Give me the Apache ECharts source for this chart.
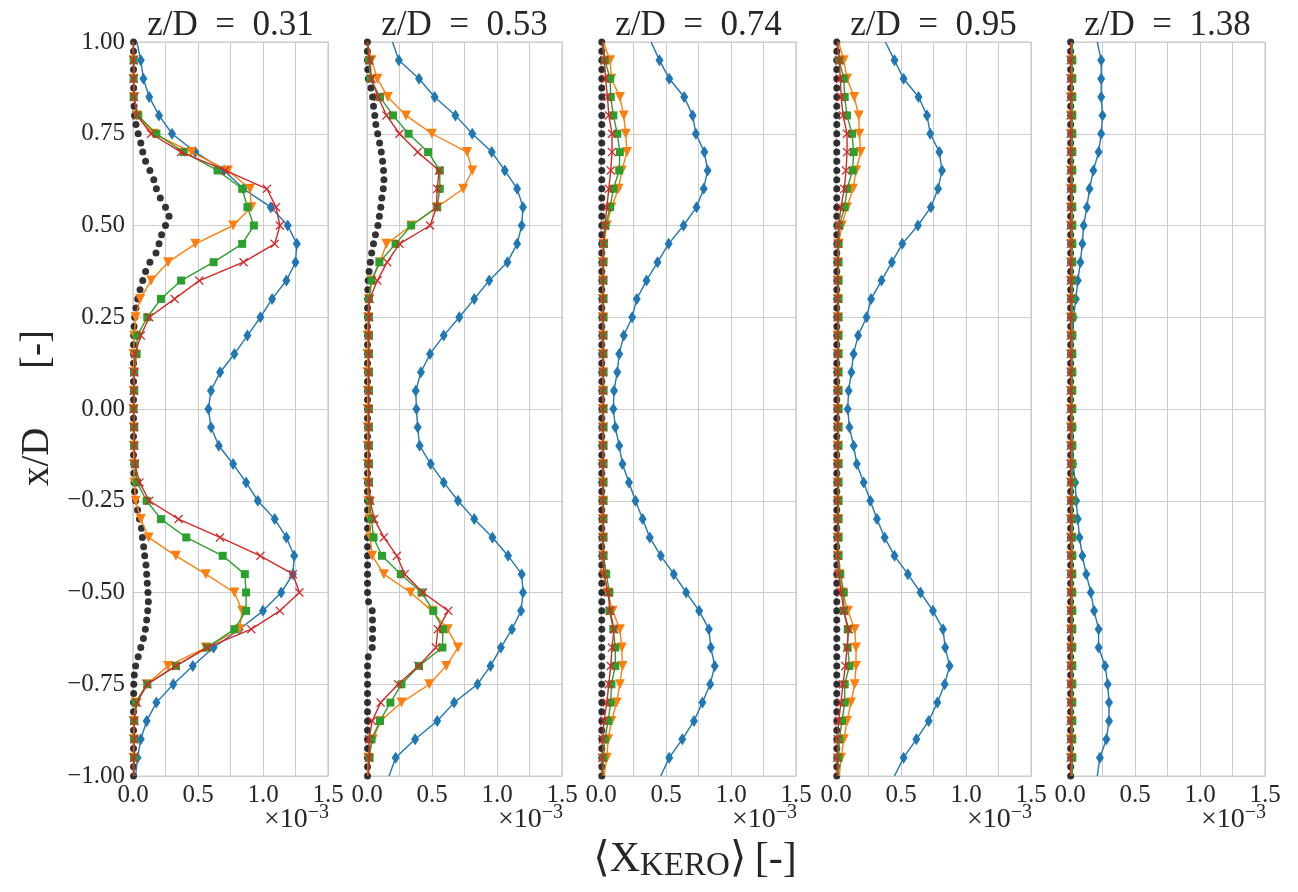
<!DOCTYPE html>
<html><head><meta charset="utf-8">
<script src="https://cdn.jsdelivr.net/npm/echarts@6/dist/echarts.min.js"></script>
<style>html,body{margin:0;padding:0;background:#fff}#c{width:1298px;height:892px}</style>
</head><body><div id="c"></div>
<script>
// ---------- DATA ----------
const panelTitles = ['z/D\u2002=\u20020.31', 'z/D\u2002=\u20020.53', 'z/D\u2002=\u20020.74', 'z/D\u2002=\u20020.95', 'z/D\u2002=\u20021.38'];
const xTickLabels = [0.0, 0.5, 1.0, 1.5];
// measurement positions x/D for the marker series
const yPos = [1.00,0.95,0.90,0.85,0.80,0.75,0.70,0.65,0.60,0.55,0.50,0.45,0.40,0.35,0.30,0.25,0.20,0.15,0.10,0.05,0.00,
  -0.05,-0.10,-0.15,-0.20,-0.25,-0.30,-0.35,-0.40,-0.45,-0.50,-0.55,-0.60,-0.65,-0.70,-0.75,-0.80,-0.85,-0.90,-0.95,-1.00];
// fine positions for the black dotted profile
const yFine = [1.000,0.975,0.950,0.925,0.900,0.875,0.850,0.825,0.800,0.775,0.750,0.725,0.700,0.675,0.650,0.625,0.600,0.575,0.550,0.525,
  0.500,0.475,0.450,0.425,0.400,0.375,0.350,0.325,0.300,0.275,0.250,0.225,0.200,0.175,0.150,0.125,0.100,0.075,0.050,0.025,0.000,
  -0.025,-0.050,-0.075,-0.100,-0.125,-0.150,-0.175,-0.200,-0.225,-0.250,-0.275,-0.300,-0.325,-0.350,-0.375,-0.400,-0.425,-0.450,-0.475,
  -0.500,-0.525,-0.550,-0.575,-0.600,-0.625,-0.650,-0.675,-0.700,-0.725,-0.750,-0.775,-0.800,-0.825,-0.850,-0.875,-0.900,-0.925,-0.950,-0.975,-1.000];

// panel 1 (z/D = 0.31)
const blue1 = [0.03,0.06,0.08,0.125,0.2,0.3,0.48,0.7,0.85,1.06,1.19,1.26,1.25,1.18,1.07,0.98,0.88,0.78,0.67,0.6,0.58,
  0.6,0.66,0.77,0.87,0.96,1.09,1.18,1.24,1.23,1.14,1.0,0.82,0.62,0.46,0.31,0.18,0.105,0.06,0.035,0.02];
const orange1 = [0.0,0.005,0.005,0.01,0.03,0.16,0.45,0.73,0.9,0.91,0.77,0.48,0.27,0.14,0.055,0.02,0.01,0.005,0.005,0.005,0.005,
  0.005,0.005,0.005,0.01,0.02,0.06,0.12,0.33,0.56,0.78,0.84,0.82,0.56,0.27,0.105,0.02,0.005,0.005,0.003,0.003];
const green1 = [0.003,0.005,0.005,0.005,0.04,0.18,0.39,0.65,0.84,0.88,0.93,0.84,0.62,0.37,0.215,0.11,0.033,0.028,0.01,0.01,0.005,
  0.01,0.01,0.015,0.03,0.105,0.215,0.41,0.69,0.86,0.87,0.87,0.78,0.57,0.33,0.11,0.02,0.01,0.01,0.01,0.005];
const red1 = [0.003,0.005,0.005,0.008,0.03,0.14,0.37,0.71,1.03,1.1,1.13,1.09,0.85,0.51,0.32,0.125,0.06,0.015,0.01,0.005,0.005,
  0.008,0.01,0.015,0.05,0.125,0.35,0.67,0.98,1.23,1.28,1.13,0.91,0.57,0.33,0.11,0.03,0.01,0.01,0.008,0.005];
const black1 = [0.004,0.004,0.004,0.004,0.004,0.005,0.006,0.008,0.012,0.023,0.04,0.06,0.075,0.097,0.13,0.16,0.18,0.21,0.25,0.277,
  0.25,0.22,0.2,0.177,0.13,0.097,0.075,0.054,0.036,0.023,0.013,0.008,0.005,0.004,0.004,0.004,0.004,0.004,0.004,0.004,0.004,
  0.004,0.004,0.004,0.004,0.004,0.005,0.006,0.008,0.012,0.02,0.035,0.05,0.065,0.072,0.082,0.09,0.1,0.105,0.11,
  0.115,0.118,0.113,0.105,0.095,0.08,0.06,0.04,0.02,0.01,0.006,0.005,0.004,0.004,0.004,0.004,0.004,0.004,0.004,0.004,0.004];

// panel 2 (z/D = 0.53)
const blue2 = [0.196,0.245,0.4,0.52,0.68,0.81,0.96,1.06,1.155,1.2,1.19,1.155,1.08,0.94,0.825,0.71,0.59,0.485,0.415,0.375,0.38,
  0.39,0.405,0.49,0.59,0.7,0.825,0.965,1.085,1.19,1.2,1.185,1.115,1.03,0.95,0.85,0.67,0.54,0.37,0.22,0.17];
const orange2 = [0.0,0.035,0.08,0.16,0.3,0.5,0.77,0.81,0.74,0.54,0.34,0.15,0.1,0.035,0.015,0.008,0.005,0.005,0.005,0.005,0.005,
  0.005,0.005,0.005,0.005,0.01,0.02,0.025,0.04,0.13,0.335,0.5,0.62,0.7,0.61,0.48,0.265,0.105,0.045,0.01,0.005];
const green2 = [0.005,0.015,0.025,0.1,0.2,0.32,0.47,0.56,0.56,0.54,0.34,0.22,0.095,0.035,0.015,0.015,0.015,0.015,0.015,0.015,0.015,
  0.015,0.015,0.015,0.015,0.02,0.035,0.05,0.115,0.26,0.42,0.51,0.585,0.58,0.4,0.265,0.18,0.1,0.035,0.02,0.01];
const red2 = [0.005,0.02,0.035,0.085,0.15,0.25,0.39,0.555,0.54,0.535,0.485,0.25,0.155,0.08,0.02,0.015,0.012,0.012,0.012,0.012,0.012,
  0.012,0.012,0.012,0.015,0.025,0.055,0.13,0.23,0.29,0.43,0.625,0.545,0.53,0.395,0.24,0.105,0.04,0.015,0.015,0.01];
const black2 = [0.003,0.003,0.004,0.006,0.01,0.03,0.043,0.05,0.06,0.068,0.082,0.097,0.11,0.12,0.127,0.13,0.125,0.114,0.106,0.095,
  0.084,0.065,0.05,0.036,0.026,0.016,0.009,0.006,0.005,0.004,0.004,0.004,0.004,0.004,0.004,0.004,0.004,0.004,0.004,0.004,0.004,
  0.004,0.004,0.004,0.004,0.004,0.004,0.004,0.004,0.004,0.004,0.004,0.004,0.004,0.004,0.004,0.004,0.004,0.004,0.004,
  0.004,0.012,0.04,0.042,0.043,0.042,0.04,0.01,0.004,0.004,0.004,0.004,0.004,0.004,0.004,0.004,0.004,0.004,0.004,0.004,0.004];

// panel 3 (z/D = 0.74)
const blue3 = [0.385,0.45,0.525,0.64,0.705,0.73,0.795,0.82,0.79,0.735,0.635,0.52,0.435,0.35,0.275,0.24,0.175,0.14,0.125,0.1,0.095,
  0.11,0.14,0.165,0.215,0.265,0.32,0.375,0.46,0.56,0.655,0.755,0.83,0.845,0.875,0.84,0.78,0.715,0.625,0.525,0.46];
const orange3 = [0.018,0.07,0.08,0.145,0.175,0.19,0.2,0.16,0.135,0.08,0.045,0.02,0.015,0.015,0.015,0.015,0.015,0.015,0.015,0.015,0.015,
  0.015,0.015,0.015,0.015,0.015,0.015,0.015,0.015,0.023,0.05,0.09,0.145,0.16,0.165,0.145,0.12,0.08,0.055,0.045,0.023];
const green3 = [0.015,0.03,0.07,0.075,0.095,0.125,0.145,0.14,0.095,0.07,0.035,0.023,0.02,0.02,0.02,0.02,0.02,0.02,0.02,0.02,0.02,
  0.02,0.02,0.02,0.02,0.02,0.02,0.02,0.02,0.04,0.065,0.065,0.095,0.11,0.11,0.08,0.075,0.055,0.03,0.018,0.015];
const red3 = [0.01,0.025,0.035,0.05,0.06,0.085,0.085,0.075,0.06,0.045,0.03,0.018,0.015,0.015,0.015,0.015,0.015,0.015,0.015,0.015,0.015,
  0.015,0.015,0.015,0.015,0.015,0.015,0.015,0.015,0.023,0.055,0.07,0.1,0.085,0.075,0.06,0.045,0.023,0.013,0.01,0.008];
const black3 = [0.006,0.006,0.006,0.006,0.006,0.006,0.006,0.006,0.006,0.006,0.006,0.006,0.006,0.006,0.006,0.006,0.006,0.006,0.006,0.006,
  0.006,0.006,0.006,0.006,0.006,0.006,0.006,0.006,0.006,0.006,0.006,0.006,0.006,0.006,0.006,0.006,0.006,0.006,0.006,0.006,0.006,
  0.006,0.006,0.006,0.006,0.006,0.006,0.006,0.006,0.006,0.006,0.006,0.006,0.006,0.006,0.006,0.006,0.006,0.006,0.006,
  0.006,0.006,0.006,0.006,0.006,0.006,0.006,0.006,0.006,0.006,0.006,0.006,0.006,0.006,0.006,0.006,0.006,0.006,0.006,0.006,0.006];

// panel 4 (z/D = 0.95)
const blue4 = [0.38,0.45,0.52,0.635,0.7,0.725,0.795,0.815,0.785,0.73,0.63,0.51,0.43,0.35,0.27,0.235,0.17,0.135,0.118,0.097,0.09,
  0.103,0.136,0.16,0.213,0.264,0.315,0.374,0.45,0.553,0.65,0.746,0.823,0.84,0.874,0.836,0.78,0.713,0.618,0.52,0.45];
const orange4 = [0.02,0.06,0.085,0.14,0.175,0.18,0.19,0.155,0.13,0.085,0.045,0.02,0.015,0.015,0.015,0.015,0.015,0.015,0.015,0.015,0.015,
  0.015,0.015,0.015,0.015,0.015,0.015,0.015,0.015,0.023,0.05,0.092,0.144,0.154,0.154,0.144,0.115,0.085,0.06,0.04,0.025];
const green4 = [0.012,0.025,0.06,0.067,0.085,0.123,0.136,0.128,0.085,0.067,0.026,0.02,0.02,0.02,0.02,0.02,0.02,0.02,0.02,0.02,0.02,
  0.02,0.02,0.02,0.02,0.02,0.02,0.02,0.02,0.033,0.06,0.06,0.09,0.09,0.103,0.067,0.067,0.046,0.026,0.02,0.015];
const red4 = [0.01,0.025,0.033,0.04,0.054,0.085,0.085,0.077,0.064,0.038,0.02,0.015,0.013,0.013,0.013,0.013,0.013,0.013,0.013,0.013,0.013,
  0.013,0.013,0.013,0.013,0.013,0.013,0.013,0.013,0.02,0.04,0.06,0.097,0.085,0.072,0.054,0.038,0.02,0.013,0.01,0.008];
const black4 = [0.006,0.006,0.006,0.006,0.006,0.006,0.006,0.006,0.006,0.006,0.006,0.006,0.006,0.006,0.006,0.006,0.006,0.006,0.006,0.006,
  0.006,0.006,0.006,0.006,0.006,0.006,0.006,0.006,0.006,0.006,0.006,0.006,0.006,0.006,0.006,0.006,0.006,0.006,0.006,0.006,0.006,
  0.006,0.006,0.006,0.006,0.006,0.006,0.006,0.006,0.006,0.006,0.006,0.006,0.006,0.006,0.006,0.006,0.006,0.006,0.006,
  0.006,0.006,0.006,0.006,0.006,0.006,0.006,0.006,0.006,0.006,0.006,0.006,0.006,0.006,0.006,0.006,0.006,0.006,0.006,0.006,0.006];

// panel 5 (z/D = 1.38)
const blue5 = [0.21,0.24,0.24,0.24,0.25,0.24,0.22,0.18,0.15,0.13,0.105,0.095,0.08,0.06,0.045,0.028,0.02,0.018,0.013,0.013,0.013,
  0.02,0.02,0.025,0.04,0.047,0.06,0.073,0.095,0.125,0.16,0.185,0.22,0.22,0.27,0.29,0.3,0.3,0.28,0.23,0.21];
const orange5 = [0.01,0.01,0.01,0.01,0.01,0.01,0.01,0.01,0.01,0.01,0.01,0.01,0.01,0.01,0.01,0.01,0.01,0.01,0.01,0.01,0.01,
  0.01,0.01,0.01,0.01,0.01,0.01,0.01,0.01,0.01,0.01,0.01,0.01,0.01,0.01,0.01,0.01,0.01,0.01,0.01,0.01];
const green5 = [0.018,0.018,0.018,0.018,0.018,0.018,0.018,0.018,0.018,0.018,0.018,0.018,0.018,0.018,0.018,0.018,0.018,0.018,0.018,0.018,0.018,
  0.018,0.018,0.018,0.018,0.018,0.018,0.018,0.018,0.018,0.018,0.018,0.018,0.018,0.018,0.018,0.018,0.018,0.018,0.018,0.018];
const red5 = [0.006,0.006,0.006,0.006,0.006,0.006,0.006,0.006,0.006,0.006,0.006,0.006,0.006,0.006,0.006,0.006,0.006,0.006,0.006,0.006,0.006,
  0.006,0.006,0.006,0.006,0.006,0.006,0.006,0.006,0.006,0.006,0.006,0.006,0.006,0.006,0.006,0.006,0.006,0.006,0.006,0.006];
const black5 = [0.005,0.005,0.005,0.005,0.005,0.005,0.005,0.005,0.005,0.005,0.005,0.005,0.005,0.005,0.005,0.005,0.005,0.005,0.005,0.005,
  0.005,0.005,0.005,0.005,0.005,0.005,0.005,0.005,0.005,0.005,0.005,0.005,0.005,0.005,0.005,0.005,0.005,0.005,0.005,0.005,0.005,
  0.005,0.005,0.005,0.005,0.005,0.005,0.005,0.005,0.005,0.005,0.005,0.005,0.005,0.005,0.005,0.005,0.005,0.005,0.005,
  0.005,0.005,0.005,0.005,0.005,0.005,0.005,0.005,0.005,0.005,0.005,0.005,0.005,0.005,0.005,0.005,0.005,0.005,0.005,0.005,0.005];

const blues = [blue1, blue2, blue3, blue4, blue5];
const oranges = [orange1, orange2, orange3, orange4, orange5];
const greens = [green1, green2, green3, green4, green5];
const reds = [red1, red2, red3, red4, red5];
const blacks = [black1, black2, black3, black4, black5];

// ---------- LAYOUT / STYLE ----------
const FONT = '"Liberation Serif", "DejaVu Serif", serif';
const TXT = '#262626';
const GRIDC = '#cccccc';
const gridLeft = [133, 367, 601, 836, 1070];
const gridTop = 42, gridW = 195, gridH = 734;
const XPATH = 'path://M1,0L5,4L9,0L10,1L6,5L10,9L9,10L5,6L1,10L0,9L4,5L0,1Z';

const styles = [
  { color: '#1f77b4', symbol: 'diamond', size: [8, 12], rot: 0 },
  { color: '#ff7f0e', symbol: 'triangle', size: 10, rot: 180 },
  { color: '#2ca02c', symbol: 'rect', size: 8, rot: 0 },
  { color: '#d62728', symbol: XPATH, size: 9, rot: 0 }
];

function pts(vals) {
  return vals.map((v, i) => {
    const d = { value: [v, yPos[i]] };
    if (i === 0 || i === vals.length - 1) d.symbol = 'none';
    return d;
  });
}
function fmtY(v) {
  const s = Math.abs(v).toFixed(2);
  return v < -1e-9 ? '\u2212' + s : s;
}
function fmtX(v) {
  return xTickLabels.some(t => Math.abs(t - v) < 1e-6) ? v.toFixed(1) : '';
}

const grids = [], xAxes = [], yAxes = [], series = [], graphics = [];
for (let p = 0; p < 5; p++) {
  grids.push({ left: gridLeft[p], top: gridTop, width: gridW, height: gridH, show: true,
    borderColor: GRIDC, borderWidth: 1.25, backgroundColor: '#fff', containLabel: false, outerBoundsMode: 'none' });
  xAxes.push({ type: 'value', gridIndex: p, min: 0, max: 1.5, interval: 0.25,
    axisLine: { show: false }, axisTick: { show: false },
    splitLine: { show: true, lineStyle: { color: GRIDC, width: 1 } },
    axisLabel: { show: true, margin: 7, fontFamily: FONT, fontSize: 25, color: TXT, formatter: fmtX,
      showMinLabel: true, showMaxLabel: true, hideOverlap: false } });
  yAxes.push({ type: 'value', gridIndex: p, min: -1, max: 1, interval: 0.25,
    axisLine: { show: false }, axisTick: { show: false },
    splitLine: { show: true, lineStyle: { color: GRIDC, width: 1 } },
    axisLabel: p === 0 ? { show: true, margin: 8, fontFamily: FONT, fontSize: 25, color: TXT, formatter: fmtY,
      showMinLabel: true, showMaxLabel: true } : { show: false } });

  series.push({ type: 'scatter', xAxisIndex: p, yAxisIndex: p, silent: true, z: 2,
    data: blacks[p].map((v, i) => [v, yFine[i]]),
    symbol: 'circle', symbolSize: 7, itemStyle: { color: '#000000' } });
  const sets = [blues[p], oranges[p], greens[p], reds[p]];
  sets.forEach((vals, k) => {
    const st = styles[k];
    series.push({ type: 'line', xAxisIndex: p, yAxisIndex: p, silent: true, z: 3 + k,
      data: pts(vals), symbol: st.symbol, symbolSize: st.size, symbolRotate: st.rot,
      showSymbol: true, showAllSymbol: true, clip: true,
      lineStyle: { color: st.color, width: 1.4 }, itemStyle: { color: st.color } });
  });

  graphics.push({ type: 'text', x: gridLeft[p] + gridW / 2, y: 26, silent: true,
    style: { text: panelTitles[p], fontFamily: FONT, fontSize: 35, fill: TXT, align: 'center', verticalAlign: 'middle' } });
  graphics.push({ type: 'text', x: gridLeft[p] + gridW + 1, y: 820, silent: true,
    style: { text: '{a|\u00d710}{b|\u22123}', align: 'right', verticalAlign: 'middle',
      rich: { a: { fontFamily: FONT, fontSize: 28, fill: TXT, lineHeight: 34 },
              b: { fontFamily: FONT, fontSize: 20, fill: TXT, lineHeight: 20, verticalAlign: 'top' } } } });
}

graphics.push({ type: 'text', x: 38, y: 408, rotation: Math.PI / 2, silent: true,
  style: { text: 'x/D\u2003\u2002[-]', fontFamily: FONT, fontSize: 39, fill: TXT, align: 'center', verticalAlign: 'middle' } });
graphics.push({ type: 'text', x: 695, y: 860, silent: true,
  style: { text: '{a|\u27e8X}{s|KERO}{a|\u27e9\u2009[-]}', align: 'center', verticalAlign: 'middle',
    rich: { a: { fontFamily: FONT, fontSize: 42, fill: TXT, lineHeight: 46 },
            s: { fontFamily: FONT, fontSize: 33, fill: TXT, lineHeight: 20, verticalAlign: 'bottom' } } } });

const chart = echarts.init(document.getElementById('c'), null, { renderer: 'canvas' });
chart.setOption({
  animation: false,
  backgroundColor: '#ffffff',
  grid: grids, xAxis: xAxes, yAxis: yAxes, series: series, graphic: graphics
});
</script></body></html>
